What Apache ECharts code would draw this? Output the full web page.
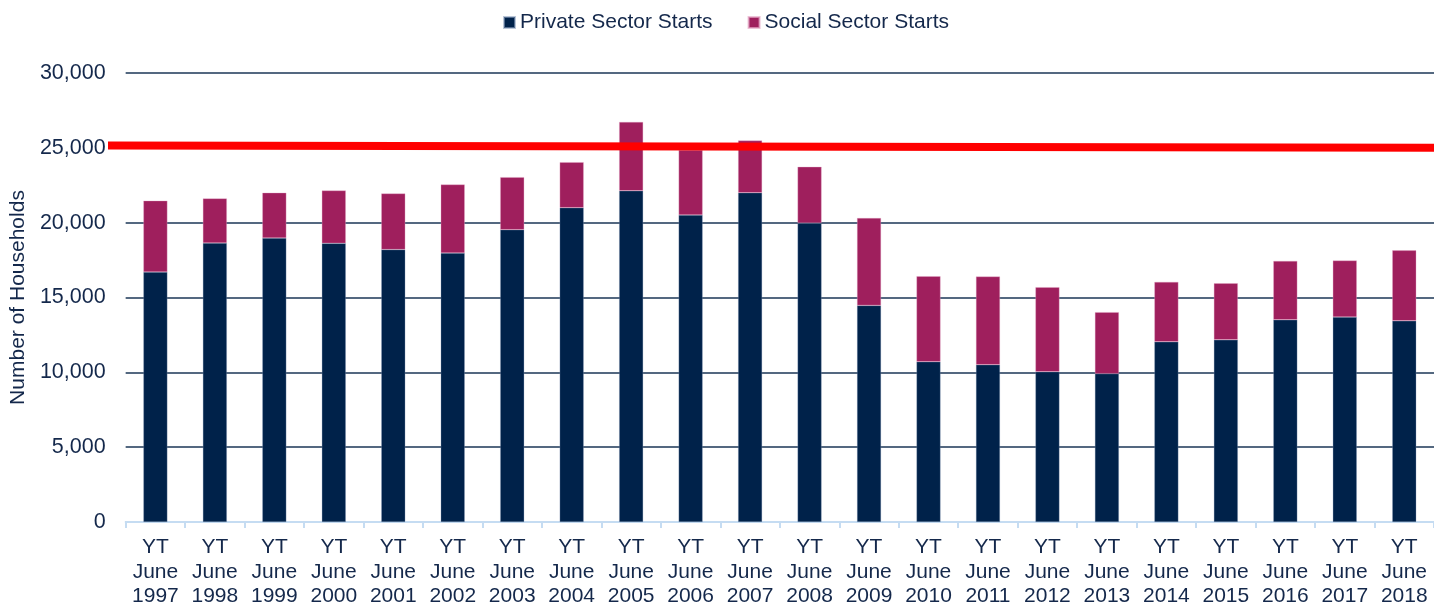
<!DOCTYPE html>
<html>
<head>
<meta charset="utf-8">
<script src="https://cdn.jsdelivr.net/npm/echarts@6/dist/echarts.min.js"></script>
<style>
  html, body { margin: 0; padding: 0; background: #fff; }
  #chart { width: 1434px; height: 613px; }
</style>
</head>
<body>
<div id="chart"></div>
<script>
// categories
var years = ['1997', '1998', '1999', '2000', '2001', '2002', '2003', '2004', '2005', '2006', '2007',
             '2008', '2009', '2010', '2011', '2012', '2013', '2014', '2015', '2016', '2017', '2018'];
var categories = years.map(function (y) { return 'YT\nJune\n' + y; });

// series values
var privateStarts = [16700, 18640, 18970, 18620, 18200, 17970, 19530, 21000, 22130, 20510, 22000,
                     19970, 14470, 10710, 10510, 10040, 9910, 12040, 12170, 13510, 13690, 13440];
var socialStarts  = [4770, 2980, 3030, 3530, 3750, 4580, 3510, 3040, 4600, 4340, 3490,
                     3760, 5840, 5710, 5890, 5650, 4110, 4000, 3780, 3930, 3780, 4710];

// red reference line, value at left and right end
var refLine = [25150, 25000];

var textColor = '#14284B';
var axisFont = 'Liberation Sans, Arial, sans-serif';

var myChart = echarts.init(document.getElementById('chart'));

var option = {
    backgroundColor: '#fff',
    animation: false,
    textStyle: { fontFamily: axisFont, color: textColor },
    legend: {
        top: 12,
        left: 503,
        padding: 0,
        itemWidth: 11,
        itemHeight: 11,
        itemGap: 35,
        icon: 'rect',
        textStyle: { fontSize: 21, color: textColor, fontFamily: axisFont },
        data: ['Private Sector Starts', 'Social Sector Starts']
    },
    grid: {
        left: 125,
        right: -6,
        top: 73,
        bottom: 91,
        containLabel: false
    },
    xAxis: {
        type: 'category',
        data: categories,
        axisLine: { lineStyle: { color: '#C5DCF2', width: 2 } },
        axisTick: { show: true, length: 6, lineStyle: { color: '#C5DCF2', width: 2 } },
        axisLabel: {
            interval: 0,
            margin: 13,
            fontSize: 21,
            lineHeight: 24.5,
            color: textColor,
            fontFamily: axisFont
        }
    },
    yAxis: {
        type: 'value',
        min: 0,
        max: 30000,
        interval: 5000,
        name: 'Number of Households',
        nameLocation: 'middle',
        nameGap: 96,
        nameTextStyle: { fontSize: 21, color: textColor, fontFamily: axisFont },
        axisLine: { show: false },
        axisTick: { show: false },
        axisLabel: {
            margin: 20,
            fontSize: 21.5,
            color: textColor,
            fontFamily: axisFont,
            formatter: function (v) { return v.toLocaleString('en-US'); }
        },
        splitLine: { lineStyle: { color: '#1B3656', width: 1.5 } }
    },
    series: [{
        name: 'Private Sector Starts',
        type: 'bar',
        stack: 'starts',
        barWidth: 24,
        itemStyle: { color: '#00224A', borderColor: 'rgba(140,160,190,0.6)', borderWidth: 0.5 },
        data: privateStarts
    }, {
        name: 'Social Sector Starts',
        type: 'bar',
        stack: 'starts',
        barWidth: 24,
        itemStyle: { color: '#9F1F5D', borderColor: 'rgba(230,170,200,0.7)', borderWidth: 0.5 },
        data: socialStarts
    }]
};

if (option && typeof option === "object") {
    myChart.setOption(option, true);
}

// red annotation line, placed through the y scale
var yLeft = myChart.convertToPixel({ yAxisIndex: 0 }, refLine[0]);
var yRight = myChart.convertToPixel({ yAxisIndex: 0 }, refLine[1]);
myChart.setOption({
    graphic: [{
        type: 'line',
        z: 100,
        shape: { x1: 108, y1: yLeft, x2: 1434, y2: yRight },
        style: { stroke: '#FF0000', lineWidth: 8 }
    }]
});
</script>
</body>
</html>
